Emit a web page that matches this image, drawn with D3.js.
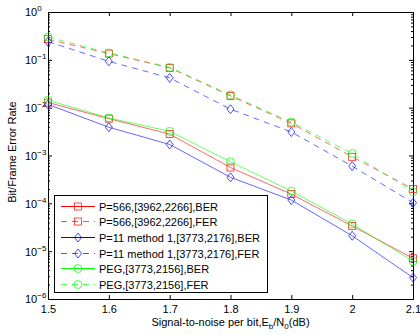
<!DOCTYPE html>
<html><head><meta charset="utf-8">
<script src="https://cdn.jsdelivr.net/npm/d3@7"></script>
<style>
body{margin:0;background:#fff;}
svg{display:block;font-family:"Liberation Sans",Arial,Helvetica,sans-serif;}
</style>
</head><body>
<svg id="chart" width="420" height="335"></svg>
<script>
const snr = [1.5, 1.6, 1.7, 1.8, 1.9, 2.0, 2.1];
const xTickLabels = ["1.5", "1.6", "1.7", "1.8", "1.9", "2", "2.1"];
const yExponents = [0, -1, -2, -3, -4, -5, -6];
const p566BER = [0.0128, 0.0059, 0.0028, 0.00056, 0.000156, 3.36e-5, 7.1e-6];
const p566FER = [0.27, 0.135, 0.068, 0.0176, 0.0047, 0.00094, 0.0002];
const p11BER  = [0.0117, 0.0039, 0.0017, 0.00035, 0.000117, 2.1e-5, 2.8e-6];
const p11FER  = [0.24, 0.093, 0.042, 0.0093, 0.0031, 0.0006, 0.000103];
const pegBER  = [0.0143, 0.0061, 0.0032, 0.00074, 0.00018, 3.7e-5, 6.2e-6];
const pegFER  = [0.30, 0.14, 0.070, 0.0185, 0.0050, 0.0011, 0.000175];
const legendLabels = ["P=566,[3962,2266],BER", "P=566,[3962,2266],FER",
  "P=11 method 1,[3773,2176],BER", "P=11 method 1,[3773,2176],FER",
  "PEG,[3773,2156],BER", "PEG,[3773,2156],FER"];

const series = [
  {vals: p566BER, color: "#ff0000", dash: null, marker: "square"},
  {vals: p566FER, color: "#ff0000", dash: "6,5", marker: "square"},
  {vals: p11BER, color: "#0000ff", dash: null, marker: "diamond"},
  {vals: p11FER, color: "#0000ff", dash: "6,5", marker: "diamond"},
  {vals: pegBER, color: "#00ff00", dash: null, marker: "circle"},
  {vals: pegFER, color: "#00ff00", dash: "6,5", marker: "circle"}
];

const L = 48, R = 413, T = 12, B = 299;
const svg = d3.select("#chart");
const x = d3.scaleLinear().domain([1.5, 2.1]).range([L, R]);
const y = d3.scaleLog().domain([1e-6, 1]).range([B, T]);

const minor = [];
for (let e = -6; e < 0; e++) for (let k = 2; k <= 9; k++) minor.push(k * Math.pow(10, e));
const major = yExponents.map(e => Math.pow(10, e));

function styleAxis(g) {
  g.selectAll("path.domain").attr("stroke", "#000").attr("stroke-width", 1);
  g.selectAll(".tick line").attr("stroke", "#000").attr("stroke-width", 1);
  g.selectAll("text").attr("fill", "#000").attr("font-size", 11)
    .attr("font-family", '"Liberation Sans",Arial,sans-serif');
}

// bottom
const gB = svg.append("g").attr("transform", `translate(0,${B})`)
  .call(d3.axisBottom(x).tickValues(snr).tickFormat((d, i) => xTickLabels[i])
    .tickSizeInner(-4).tickSizeOuter(0).tickPadding(6));
styleAxis(gB);
// top
const gT = svg.append("g").attr("transform", `translate(0,${T})`)
  .call(d3.axisTop(x).tickValues(snr).tickFormat("").tickSizeInner(-4).tickSizeOuter(0));
styleAxis(gT);
// left major
const gL = svg.append("g").attr("transform", `translate(${L},0)`)
  .call(d3.axisLeft(y).tickValues(major).tickFormat("").tickSizeInner(-4).tickSizeOuter(0).tickPadding(0));
styleAxis(gL);
gL.selectAll(".tick text").attr("text-anchor", "start").attr("x", -23).attr("dy", "0.36em")
  .each(function(d) {
    const t = d3.select(this);
    const e = Math.round(Math.log10(d));
    t.append("tspan").text("10");
    t.append("tspan").attr("font-size", 8).attr("dy", -5).text(String(e).replace("-", "\u2212"));
  });
// left minor
const gLm = svg.append("g").attr("transform", `translate(${L},0)`)
  .call(d3.axisLeft(y).tickValues(minor).tickFormat("").tickSizeInner(-2).tickSizeOuter(0));
styleAxis(gLm);
// right
const gR = svg.append("g").attr("transform", `translate(${R},0)`)
  .call(d3.axisRight(y).tickValues(major).tickFormat("").tickSizeInner(-4).tickSizeOuter(0));
styleAxis(gR);
const gRm = svg.append("g").attr("transform", `translate(${R},0)`)
  .call(d3.axisRight(y).tickValues(minor).tickFormat("").tickSizeInner(-2).tickSizeOuter(0));
styleAxis(gRm);

// lines
const line = d3.line().x((d, i) => x(snr[i])).y(d => y(d));
const plot = svg.append("g");
function drawMarker(g, type, cx, cy, color, sw) {
  if (type === "square") {
    g.append("rect").attr("x", cx - 3.5).attr("y", cy - 3.5).attr("width", 7).attr("height", 7)
      .attr("fill", "none").attr("stroke", color).attr("stroke-width", sw);
  } else if (type === "circle") {
    g.append("circle").attr("cx", cx).attr("cy", cy).attr("r", 4)
      .attr("fill", "none").attr("stroke", color).attr("stroke-width", sw);
  } else {
    g.append("path").attr("d", `M${cx},${cy - 4.5}L${cx + 3.5},${cy}L${cx},${cy + 4.5}L${cx - 3.5},${cy}Z`)
      .attr("fill", "none").attr("stroke", color).attr("stroke-width", sw);
  }
}
series.forEach(s => {
  plot.append("path").datum(s.vals).attr("d", line).attr("fill", "none")
    .attr("stroke", s.color).attr("stroke-width", 0.6)
    .attr("stroke-dasharray", s.dash);
  s.vals.forEach((v, i) => drawMarker(plot, s.marker, x(snr[i]), y(v), s.color, 0.7));
});

// legend
const lg = svg.append("g");
lg.append("rect").attr("x", 54.5).attr("y", 195.5).attr("width", 213).attr("height", 97)
  .attr("fill", "#fff").attr("stroke", "#000").attr("stroke-width", 1);
series.forEach((s, i) => {
  const ry = Math.round(205.7 + i * 15.67) + 0.5;
  lg.append("line").attr("x1", 61).attr("x2", 95).attr("y1", ry).attr("y2", ry)
    .attr("stroke", s.color).attr("stroke-width", s.dash ? 0.7 : 1)
    .attr("stroke-dasharray", s.dash ? "6,5" : null);
  drawMarker(lg, s.marker, 78, ry, s.color, 0.7);
  lg.append("text").attr("x", 99).attr("y", ry + 4).attr("font-size", 11).attr("fill", "#000")
    .text(legendLabels[i]);
});

// axis labels
const xl = svg.append("text").attr("x", (L + R) / 2).attr("y", 326).attr("text-anchor", "middle")
  .attr("font-size", 11).attr("fill", "#000");
xl.append("tspan").text("Signal-to-noise per bit,E");
xl.append("tspan").attr("font-size", 8).attr("dy", 3).text("b");
xl.append("tspan").attr("dy", -3).text("/N");
xl.append("tspan").attr("font-size", 8).attr("dy", 3).text("0");
xl.append("tspan").attr("dy", -3).text("(dB)");

svg.append("text").attr("transform", `translate(16,152) rotate(-90)`)
  .attr("text-anchor", "middle").attr("font-size", 11).attr("fill", "#000")
  .text("Bit/Frame Error Rate");
</script>
</body></html>
